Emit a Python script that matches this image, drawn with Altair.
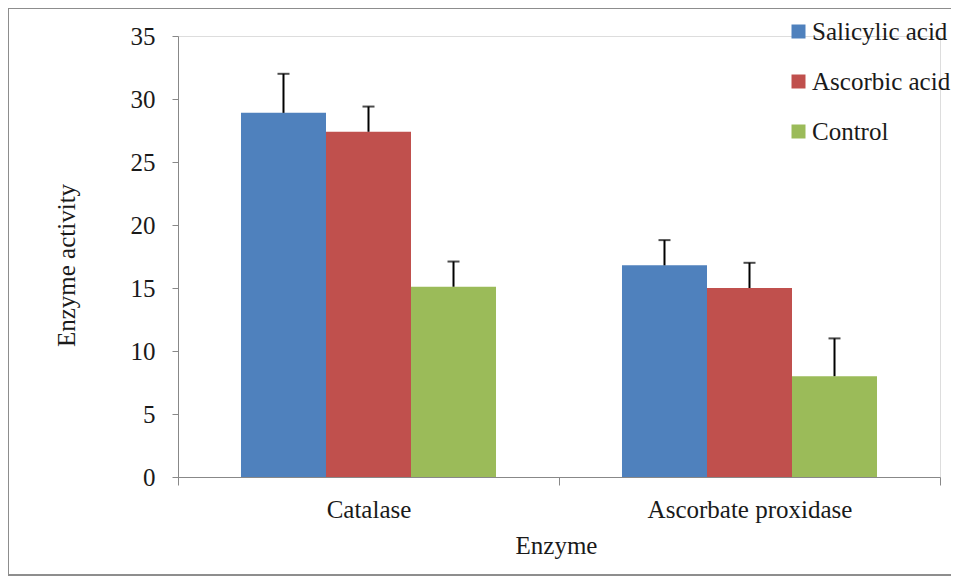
import altair as alt
import pandas as pd

enzymes = ["Catalase", "Catalase", "Catalase",
           "Ascorbate proxidase", "Ascorbate proxidase", "Ascorbate proxidase"]
treatments = ["Salicylic acid", "Ascorbic acid", "Control",
              "Salicylic acid", "Ascorbic acid", "Control"]
values = [28.9, 27.4, 15.1, 16.8, 15.0, 8.0]
upper = [32.0, 29.4, 17.1, 18.8, 17.0, 11.0]

enzyme_order = ["Catalase", "Ascorbate proxidase"]
treat_order = ["Salicylic acid", "Ascorbic acid", "Control"]
colors = ["#4F81BD", "#C0504D", "#9BBB59"]

df = pd.DataFrame({"Enzyme": enzymes, "Treatment": treatments,
                   "value": values, "upper": upper})

FONT = "Liberation Serif"
LFONT = "Times New Roman"
FS = 25

x = alt.X("Enzyme:N", sort=enzyme_order,
          scale=alt.Scale(paddingInner=0, paddingOuter=0),
          axis=alt.Axis(title="Enzyme", labelAngle=0, tickBand="extent",
                        tickSize=8, labelPadding=12, labelLimit=0,
                        domainColor="#888888",
                        tickColor="#888888", labelFont=FONT, labelFontSize=FS,
                        labelColor="#1a1a1a", titleFont=FONT, titleFontSize=FS,
                        titleFontWeight="normal", titleColor="#1a1a1a",
                        titleX=378, titleY=76, titleBaseline="alphabetic",
                        titleAlign="center"))
xoff = alt.XOffset("Treatment:N", sort=treat_order,
                   scale=alt.Scale(paddingInner=0, paddingOuter=0.741))
y = alt.Y("value:Q",
          scale=alt.Scale(domain=[0, 35], nice=False),
          axis=alt.Axis(title="Enzyme  activity", values=[0, 5, 10, 15, 20, 25, 30, 35],
                        grid=False, tickSize=6, labelPadding=17,
                        domainColor="#888888", tickColor="#888888",
                        labelFont=FONT, labelFontSize=FS, labelColor="#1a1a1a",
                        titleFont=FONT, titleFontSize=FS, titleFontWeight="normal",
                        titleColor="#1a1a1a", titleX=-112, titleY=229,
                        titleAngle=270, titleBaseline="middle", titleAlign="center"))

bars = alt.Chart(df).mark_bar().encode(
    x=x, xOffset=xoff, y=y,
    color=alt.Color("Treatment:N", sort=treat_order,
                    scale=alt.Scale(domain=treat_order, range=colors),
                    legend=alt.Legend(title=None, orient="none", legendX=608, legendY=-17,
                                      symbolType="square", symbolSize=196,
                                      symbolStrokeWidth=0, labelFont=LFONT,
                                      labelFontSize=FS, labelColor="#1a1a1a",
                                      labelOffset=1, rowPadding=24, labelLimit=0))
)

err = alt.Chart(df).mark_rule(color="black", strokeWidth=2).encode(
    x=alt.X("Enzyme:N", sort=enzyme_order), xOffset=alt.XOffset("Treatment:N", sort=treat_order),
    y="value:Q", y2="upper:Q"
)
caps = alt.Chart(df).mark_tick(color="black", thickness=2, size=12, orient="horizontal").encode(
    x=alt.X("Enzyme:N", sort=enzyme_order), xOffset=alt.XOffset("Treatment:N", sort=treat_order),
    y="upper:Q"
)

frame_top = alt.Chart(df).mark_rule(stroke="#8c8c8c", strokeWidth=1).encode(
    x=alt.value(-170), x2=alt.value(773), y=alt.value(-28)
)
frame_bottom = alt.Chart(df).mark_rule(stroke="#8c8c8c", strokeWidth=1).encode(
    x=alt.value(-170), x2=alt.value(773), y=alt.value(539)
)
frame_left = alt.Chart(df).mark_rule(stroke="#8c8c8c", strokeWidth=1).encode(
    x=alt.value(-170), y=alt.value(-28), y2=alt.value(539)
)

chart = alt.layer(bars, err, caps, frame_top, frame_bottom, frame_left).properties(
    width=762, height=441,
    autosize=alt.AutoSizeParams(type="none"),
    padding={"left": 170, "top": 28, "right": 11, "bottom": 99},
).configure_view(stroke=None).configure(
    background="white", font=FONT,
    style={"guide-label": {"font": FONT}, "guide-title": {"font": FONT}}
).configure_legend(labelFont=LFONT)

chart.save("out.html", embed_options={"renderer": "svg", "actions": False})
